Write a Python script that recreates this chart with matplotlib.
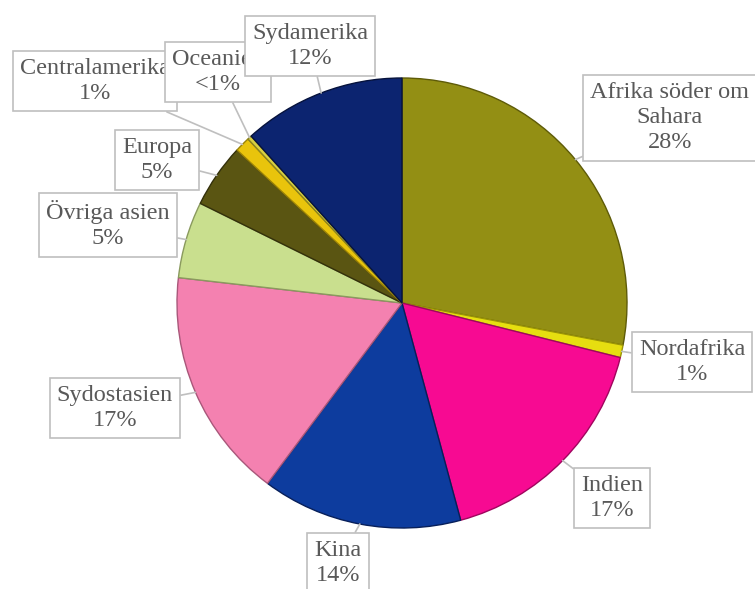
import numpy as np
import matplotlib.pyplot as plt

# data
regions = ['Afrika söder om\nSahara', 'Nordafrika', 'Indien', 'Kina', 'Sydostasien',
           'Övriga asien', 'Europa', 'Centralamerika', 'Oceanien', 'Sydamerika']
shares = [28.0, 0.9, 16.9, 14.4, 16.6, 5.5, 4.6, 1.1, 0.3, 11.7]
pct_labels = ['28%', '1%', '17%', '14%', '17%', '5%', '5%', '1%', '<1%', '12%']
colors = ['#938F14', '#E6DE10', '#F70A92', '#0D3C9E', '#F481B0',
          '#C9DF8E', '#5A5512', '#E9C40C', '#D8D040', '#0C2470']
edges = ['#5E5B08', '#9A9406', '#A0055E', '#071F5A', '#A9577A',
         '#8A9A5E', '#33300A', '#9A8206', '#8A8420', '#06123C']

# label box centres (figure pixels, from top-left)
box_px = [(670, 118), (692, 362), (612, 498), (338, 563), (115, 408),
          (108, 225), (157, 160), (95, 81), (218, 72), (310, 46)]

W, H = 755, 589
cx, cy, R = 402, 303, 225

fig = plt.figure(figsize=(W / 100, H / 100), dpi=100)
ax = fig.add_axes([0, 0, 1, 1])

wedges, _ = ax.pie(shares, colors=colors, startangle=90, counterclock=False,
                   radius=1.0, center=(0, 0),
                   wedgeprops=dict(linewidth=1.0))
for w, ec in zip(wedges, edges):
    w.set_edgecolor(ec)

ax.set_xlim(-cx / R, (W - cx) / R)
ax.set_ylim(-(H - cy) / R, cy / R)
ax.set_aspect('equal')
ax.axis('off')

# later boxes on top: Sydamerika over Oceanien over Centralamerika
for z, i in enumerate(range(len(regions))):
    w = wedges[i]
    ang = np.deg2rad((w.theta1 + w.theta2) / 2)
    px, py = np.cos(ang), np.sin(ang)
    bx, by = box_px[i]
    tx, ty = (bx - cx) / R, (cy - by) / R
    ax.annotate(regions[i] + '\n' + pct_labels[i], xy=(px, py), xytext=(tx, ty),
                ha='center', va='center', fontsize=17.5, color='#595959',
                family='Liberation Serif', linespacing=1.25, zorder=5 + z,
                bbox=dict(boxstyle='square,pad=0.3', fc='white', ec='#BFBFBF', lw=1.2),
                arrowprops=dict(arrowstyle='-', color='#BFBFBF', lw=1.2,
                                shrinkA=0, shrinkB=0))

fig.savefig('out.png', dpi=100)
